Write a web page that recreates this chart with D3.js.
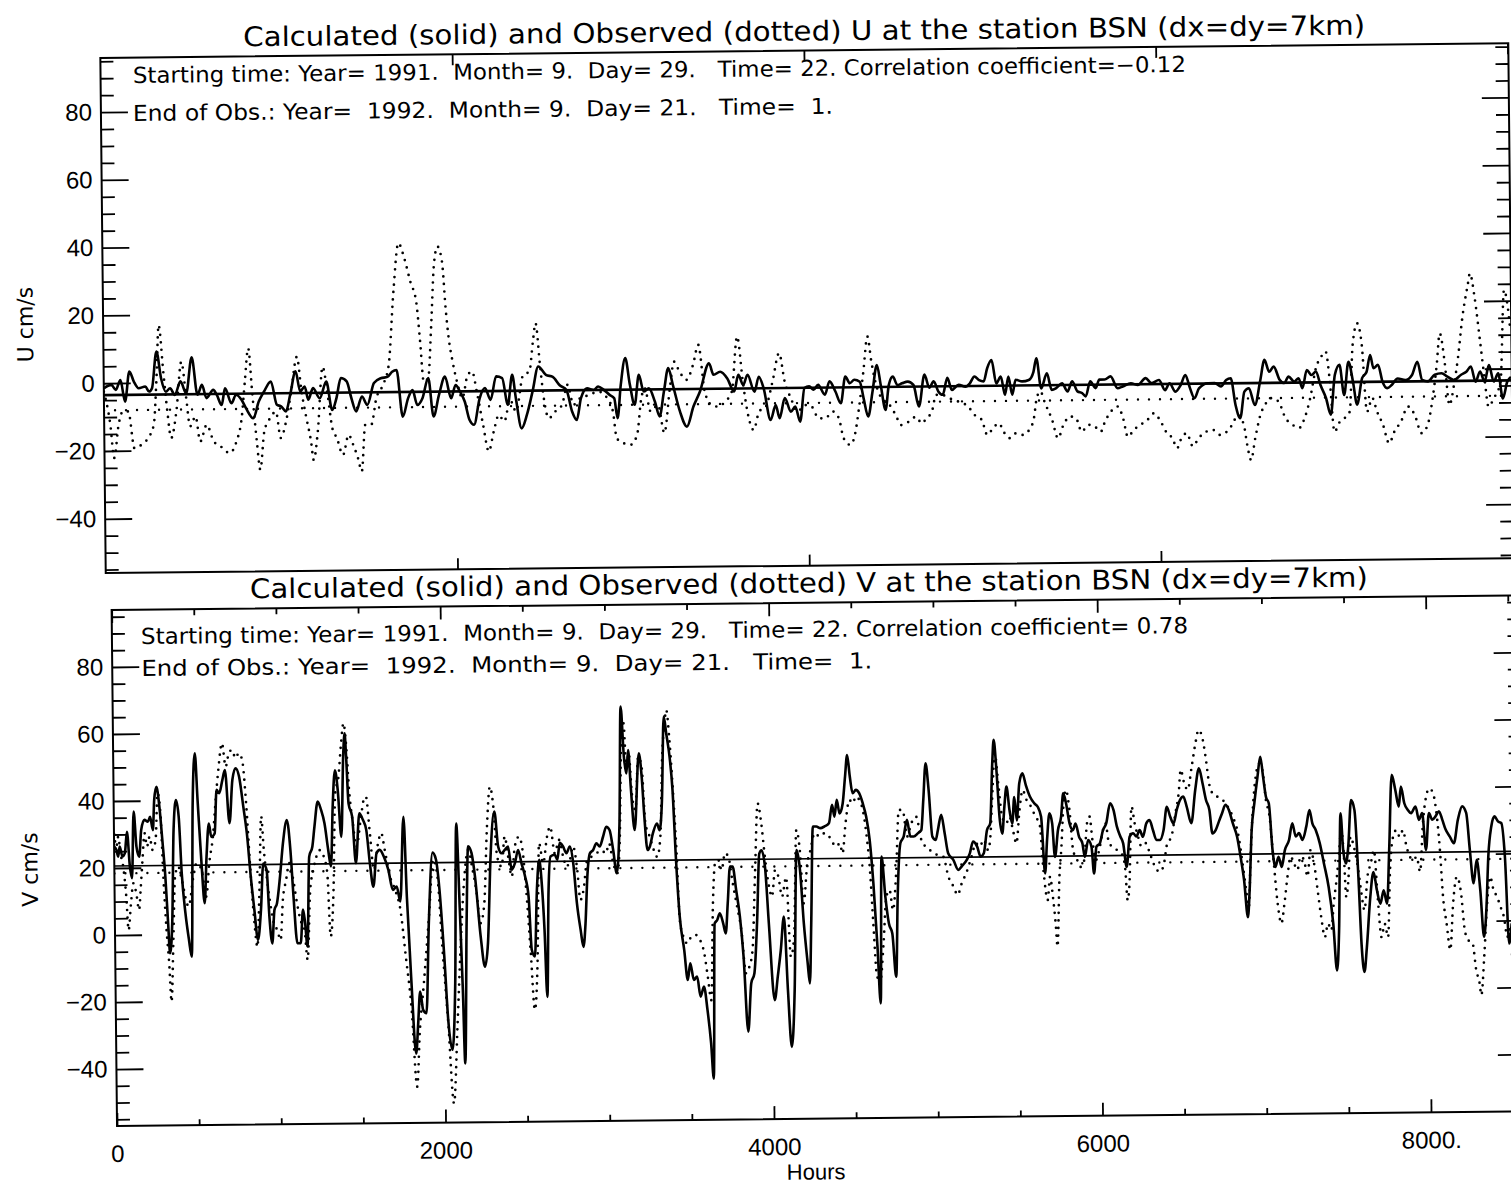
<!DOCTYPE html>
<html>
<head>
<meta charset="utf-8">
<script src="https://cdn.jsdelivr.net/npm/d3@7"></script>
<style>
  html, body { margin: 0; padding: 0; background: #fff; }
  svg { display: block; }
</style>
</head>
<body>
<script>
// ---- Series: [hour, cm/s] ----
const uCalc = [[0,-1.5],[43,-0.5],[68,-2.0],[95,0.9],[120,-5.5],[146,3.4],[171,0.4],[198,-1.6],[236,-1.1],[257,-2.6],[274,-1.6],[301,9.2],[326,1.3],[352,-2.7],[377,-1.7],[403,-3.7],[436,0.3],[468,-3.2],[501,7.4],[532,-3.7],[558,-0.8],[583,-4.7],[622,-2.3],[642,-3.8],[669,-6.8],[689,-1.9],[725,-6.3],[751,-3.8],[782,-5.3],[807,-7.8],[848,-10.8],[880,-5.9],[910,-3.0],[950,0.0],[983,-6.9],[1008,-7.4],[1034,-8.9],[1059,-4.0],[1091,2.9],[1116,-3.0],[1142,-1.6],[1162,-5.5],[1189,-2.1],[1227,-5.1],[1265,-0.2],[1297,-8.6],[1322,-5.1],[1348,0.8],[1381,-0.2],[1407,-5.2],[1433,-9.1],[1467,-4.7],[1497,-7.2],[1536,-0.8],[1575,0.6],[1613,1.0],[1640,2.5],[1665,3.0],[1698,-10.8],[1729,-5.4],[1755,-3.0],[1781,-7.4],[1811,-5.4],[1845,0.5],[1873,-10.8],[1905,-4.5],[1940,0.9],[1974,-5.5],[2000,-1.6],[2025,-3.6],[2051,-6.5],[2077,-11.9],[2103,-13.4],[2136,-5.6],[2167,-2.6],[2198,-6.1],[2231,0.8],[2265,0.3],[2296,-7.6],[2322,1.2],[2342,-5.7],[2373,-14.6],[2404,-10.6],[2437,-3.8],[2471,3.6],[2514,1.1],[2553,0.5],[2592,-2.0],[2630,-3.4],[2661,-9.8],[2687,-12.3],[2712,-5.9],[2747,-3.0],[2785,-3.5],[2810,-2.5],[2842,-3.5],[2875,-5.0],[2901,-6.0],[2919,-11.9],[2939,-2.1],[2966,5.8],[2991,-2.1],[3017,-8.0],[3042,0.8],[3069,-4.1],[3099,-3.2],[3132,-7.1],[3158,-11.5],[3184,-4.2],[3210,2.7],[3235,-2.2],[3274,-10.1],[3313,-14.6],[3351,-8.7],[3389,-4.3],[3442,4.0],[3467,0.6],[3505,1.5],[3545,-0.5],[3583,-4.4],[3608,0.5],[3635,-2.5],[3660,0.5],[3699,-4.5],[3724,-0.1],[3751,-3.5],[3789,-12.9],[3819,-8.5],[3840,-12.4],[3871,-6.5],[3905,-10.5],[3930,-9.0],[3957,-13.5],[3983,-3.6],[4010,-3.1],[4035,-4.1],[4061,-2.7],[4099,-5.6],[4126,-1.7],[4159,-4.7],[4189,-8.2],[4216,-0.3],[4241,-2.3],[4267,-1.3],[4298,-1.9],[4319,-6.8],[4344,-12.2],[4370,-4.8],[4396,3.0],[4417,-2.9],[4443,-10.3],[4463,-2.9],[4486,-0.5],[4512,-3.0],[4538,-2.5],[4571,-2.0],[4603,-3.0],[4633,-9.4],[4666,0.0],[4693,-3.9],[4718,-2.0],[4744,-5.0],[4769,-6.0],[4796,-1.0],[4821,-4.6],[4860,-3.1],[4899,-3.7],[4924,-2.7],[4950,-0.7],[4976,-1.8],[5002,-2.2],[5023,1.7],[5048,4.1],[5074,-2.8],[5100,-0.8],[5123,-6.2],[5143,-0.8],[5164,-6.2],[5184,-1.8],[5221,-2.3],[5259,-1.9],[5286,0.5],[5303,4.5],[5329,-4.4],[5362,0.0],[5389,-4.9],[5414,-4.4],[5448,-3.0],[5479,-5.4],[5505,-2.4],[5535,-5.4],[5561,-5.9],[5582,-6.9],[5608,-2.5],[5638,-4.5],[5660,-2.0],[5690,-2.0],[5724,-1.1],[5763,-4.6],[5793,-4.1],[5839,-3.2],[5879,-3.7],[5923,-1.7],[5956,-3.2],[5999,-2.3],[6033,-5.3],[6059,-3.3],[6092,-5.8],[6123,-3.8],[6149,-0.9],[6175,-4.8],[6200,-7.8],[6226,-4.9],[6278,-3.4],[6316,-3.4],[6351,-4.4],[6381,-2.5],[6407,-2.0],[6433,-9.9],[6459,-13.8],[6484,-6.0],[6510,-5.0],[6543,-10.0],[6574,-3.0],[6600,3.3],[6626,-0.2],[6652,1.3],[6685,-2.6],[6711,-3.6],[6736,-1.7],[6768,-3.2],[6793,-2.2],[6814,-5.2],[6840,0.2],[6866,-1.3],[6892,-0.3],[6917,-4.3],[6948,-8.2],[6974,-13.1],[6999,-1.4],[7026,1.6],[7051,-7.3],[7077,2.5],[7102,-3.4],[7124,-10.2],[7154,-2.4],[7180,-0.5],[7201,4.4],[7219,0.5],[7245,1.5],[7270,-3.5],[7296,-5.4],[7322,-4.5],[7356,-2.6],[7400,-3.1],[7438,-1.6],[7469,2.3],[7495,-3.1],[7528,-3.6],[7567,-1.6],[7606,-1.2],[7639,-2.2],[7676,-3.2],[7717,-1.7],[7747,-0.8],[7773,0.7],[7799,-3.8],[7825,-0.8],[7850,-3.8],[7876,1.1],[7902,-3.8],[7928,-1.4],[7953,-8.8],[7979,-3.9],[8000,-2.5]];

const uObs = [[0,-2.5],[35,-12.3],[55,-22.1],[82,-12.3],[107,-8.4],[138,-8.4],[171,-19.3],[210,-18.3],[249,-16.3],[282,-12.4],[301,2.3],[315,17.0],[339,3.2],[360,-8.6],[380,-16.4],[411,-8.6],[442,6.1],[468,-4.7],[488,-13.0],[520,-10.1],[545,-17.5],[583,-12.6],[622,-17.5],[661,-19.0],[712,-21.0],[751,-17.6],[782,-10.7],[802,0.0],[823,9.9],[843,-3.0],[867,-17.7],[885,-26.0],[910,-14.7],[944,-10.8],[977,-8.9],[1003,-16.7],[1034,-11.9],[1065,-3.0],[1099,7.2],[1124,-3.1],[1150,-10.9],[1175,-17.8],[1189,-23.3],[1214,-14.9],[1245,4.2],[1270,-3.2],[1297,-14.0],[1322,-16.9],[1356,-21.9],[1389,-16.0],[1415,-19.0],[1441,-22.9],[1462,-26.8],[1484,-13.1],[1518,-13.1],[1549,-5.2],[1587,-1.4],[1621,4.5],[1652,26.1],[1683,40.4],[1716,35.9],[1749,29.0],[1781,23.1],[1801,11.3],[1819,-0.5],[1845,0.5],[1865,16.2],[1884,34.0],[1905,39.3],[1930,34.8],[1948,21.0],[1966,11.2],[1981,6.3],[2008,-0.6],[2038,-5.5],[2069,1.3],[2095,2.3],[2120,-3.6],[2154,-13.4],[2185,-21.3],[2214,-15.5],[2244,-10.6],[2275,-12.5],[2309,-6.2],[2342,-9.6],[2385,1.2],[2420,2.1],[2442,10.9],[2458,16.4],[2481,4.0],[2501,-5.8],[2528,-11.7],[2566,-9.7],[2604,-7.8],[2636,-1.9],[2669,-7.8],[2707,-5.9],[2759,-5.0],[2810,-4.0],[2862,-6.0],[2893,-9.9],[2913,-17.8],[2952,-19.3],[2991,-19.8],[3029,-16.9],[3055,-6.1],[3075,-3.1],[3107,-10.0],[3150,-8.1],[3184,-16.4],[3218,-3.2],[3243,4.6],[3274,1.6],[3313,-0.8],[3351,3.6],[3382,9.5],[3416,-4.3],[3454,-8.3],[3493,-8.8],[3532,-7.3],[3570,-4.4],[3603,11.8],[3635,-2.4],[3665,-12.3],[3692,-15.8],[3724,-10.4],[3763,-8.9],[3802,-1.6],[3841,6.8],[3871,-1.6],[3905,-6.5],[3943,-10.5],[3983,-8.6],[4023,-9.1],[4061,-12.5],[4099,-12.6],[4143,-10.6],[4177,-12.6],[4203,-18.5],[4241,-20.5],[4267,-17.6],[4292,-9.7],[4319,1.1],[4344,11.4],[4365,4.0],[4391,-2.9],[4422,-6.9],[4460,-8.4],[4500,-11.8],[4530,-14.8],[4576,-13.8],[4615,-12.4],[4649,-14.4],[4674,-12.9],[4706,-11.0],[4731,-6.0],[4769,-6.1],[4809,-7.1],[4860,-8.1],[4912,-9.5],[4950,-12.1],[4989,-13.5],[5020,-18.0],[5053,-16.0],[5086,-14.6],[5118,-17.5],[5148,-19.0],[5183,-17.6],[5221,-18.1],[5259,-16.6],[5286,-13.2],[5303,-7.3],[5324,-5.3],[5350,-8.8],[5389,-13.7],[5422,-19.2],[5453,-15.3],[5492,-12.8],[5525,-13.3],[5557,-17.3],[5595,-15.3],[5633,-15.9],[5665,-17.4],[5690,-14.4],[5724,-11.5],[5763,-10.0],[5793,-13.5],[5819,-19.0],[5852,-17.0],[5891,-15.5],[5930,-14.1],[5969,-12.1],[6007,-14.6],[6041,-18.0],[6072,-19.5],[6098,-22.5],[6123,-19.6],[6154,-18.1],[6188,-22.0],[6221,-19.6],[6265,-17.7],[6303,-17.2],[6343,-18.7],[6381,-17.8],[6412,-15.8],[6446,-12.9],[6479,-15.8],[6497,-21.7],[6518,-26.2],[6543,-19.8],[6574,-12.9],[6600,-10.0],[6639,-8.0],[6677,-9.0],[6716,-13.9],[6755,-15.9],[6793,-16.9],[6825,-14.0],[6858,-8.1],[6892,0.7],[6923,4.1],[6948,5.6],[6969,-2.4],[6994,-18.1],[7026,-15.1],[7051,-14.2],[7082,-12.2],[7102,7.4],[7129,13.8],[7154,7.4],[7180,-12.3],[7211,-8.3],[7237,-12.3],[7270,-16.2],[7304,-21.7],[7335,-18.2],[7373,-15.3],[7413,-10.9],[7451,-13.4],[7489,-18.8],[7524,-16.4],[7554,-8.5],[7579,1.3],[7598,10.6],[7624,2.2],[7649,-10.6],[7676,-4.7],[7701,3.6],[7727,15.0],[7760,24.8],[7773,28.2],[7799,20.8],[7825,9.0],[7850,-2.8],[7871,-11.2],[7902,-8.7],[7941,-3.9],[7966,23.2],[7985,18.7],[8000,10.8]];

const vCalc = [[0,26.4],[14,25.4],[24,23.4],[34,26.4],[50,23.4],[65,24.4],[79,30.8],[95,20.3],[107,16.9],[121,36.8],[136,26.3],[152,23.3],[166,31.3],[186,34.3],[207,33.7],[221,35.2],[237,31.2],[247,40.2],[261,44.1],[278,38.2],[294,28.2],[310,17.3],[324,3.3],[334,-5.6],[349,3.3],[363,31.2],[379,40.1],[395,35.1],[410,18.2],[430,6.3],[450,-1.7],[466,-6.7],[481,39.1],[497,54.0],[511,40.0],[531,21.1],[548,9.2],[562,23.1],[578,33.0],[592,29.0],[613,30.0],[627,43.0],[643,42.0],[663,45.9],[679,48.9],[704,33.0],[724,45.9],[744,49.4],[765,46.9],[789,37.9],[809,29.9],[830,17.0],[850,7.0],[870,-1.9],[890,7.0],[907,20.9],[927,18.9],[941,5.0],[957,-3.0],[972,7.0],[988,9.0],[1008,16.9],[1028,26.9],[1053,33.8],[1073,24.8],[1089,10.9],[1110,-3.0],[1130,-3.0],[1146,7.0],[1158,3.0],[1171,-4.0],[1187,22.8],[1207,25.8],[1221,31.8],[1242,39.2],[1262,36.7],[1282,32.7],[1303,24.8],[1319,19.8],[1333,37.6],[1349,48.5],[1365,42.5],[1384,28.6],[1400,52.5],[1410,59.5],[1418,52.5],[1430,38.5],[1451,34.6],[1471,20.7],[1495,35.6],[1516,33.6],[1536,30.6],[1556,20.6],[1576,13.6],[1597,23.6],[1617,24.6],[1641,22.6],[1668,18.6],[1694,12.6],[1718,13.6],[1739,9.1],[1763,34.4],[1779,10.5],[1800,-13.4],[1826,-36.3],[1840,-27.3],[1854,-17.8],[1871,-23.3],[1891,-24.3],[1911,2.6],[1938,23.6],[1958,21.6],[1978,12.5],[2003,-7.4],[2023,-26.3],[2047,-35.3],[2068,-15.4],[2084,32.2],[2100,7.3],[2114,-17.5],[2124,-39.4],[2141,2.4],[2155,25.4],[2175,23.4],[2195,16.3],[2226,-1.6],[2250,-10.6],[2270,-3.5],[2291,22.3],[2317,35.7],[2338,25.2],[2358,23.2],[2378,24.2],[2398,25.2],[2419,18.2],[2439,20.2],[2459,24.1],[2479,20.1],[2500,16.2],[2520,10.2],[2536,-5.7],[2555,-7.7],[2571,12.1],[2587,21.1],[2601,14.1],[2615,0.2],[2628,-19.8],[2642,12.1],[2656,22.1],[2682,22.6],[2697,21.1],[2713,26.1],[2733,25.0],[2753,23.0],[2774,25.0],[2794,20.0],[2814,8.0],[2835,0.0],[2851,-5.0],[2865,2.0],[2879,16.0],[2896,22.9],[2916,23.9],[2936,25.9],[2956,24.9],[2977,27.8],[2997,30.8],[3017,29.8],[3038,23.8],[3058,16.9],[3078,31.7],[3092,66.6],[3109,51.6],[3123,46.6],[3135,53.6],[3149,42.6],[3170,29.7],[3200,52.6],[3216,45.6],[3230,33.6],[3247,23.7],[3261,24.7],[3281,28.7],[3306,31.6],[3322,29.6],[3338,38.5],[3354,63.5],[3368,58.5],[3387,51.5],[3403,41.5],[3419,21.6],[3439,3.7],[3464,-6.2],[3484,-15.2],[3500,-10.2],[3521,-15.2],[3541,-14.2],[3561,-20.2],[3582,-17.2],[3602,-24.2],[3622,-34.2],[3636,-44.7],[3651,1.6],[3667,2.6],[3683,4.6],[3703,1.6],[3718,-1.4],[3732,7.6],[3748,18.5],[3764,18.5],[3784,11.5],[3805,3.6],[3825,-8.4],[3849,-30.8],[3870,-16.4],[3890,-13.4],[3910,2.5],[3927,22.3],[3941,23.3],[3961,18.3],[3981,1.4],[4012,-21.5],[4032,-14.5],[4052,-6.6],[4073,3.4],[4093,-18.5],[4113,-35.5],[4134,-18.5],[4154,23.2],[4174,17.2],[4194,1.3],[4215,-10.6],[4227,-16.6],[4239,1.3],[4255,30.2],[4276,30.2],[4300,29.7],[4326,30.2],[4353,31.1],[4373,36.6],[4387,33.1],[4402,38.1],[4418,34.0],[4438,37.0],[4454,45.0],[4468,51.4],[4483,45.0],[4499,40.0],[4519,41.0],[4539,40.0],[4560,37.0],[4580,33.0],[4600,26.0],[4620,13.0],[4641,-6.0],[4657,-22.8],[4671,21.0],[4692,9.0],[4712,1.0],[4732,-2.0],[4753,-14.9],[4767,9.0],[4787,25.0],[4807,26.9],[4828,31.9],[4848,26.9],[4868,26.9],[4895,27.9],[4915,28.8],[4929,37.8],[4945,48.7],[4962,40.7],[4982,26.8],[5002,25.8],[5016,28.8],[5037,33.3],[5057,27.8],[5077,21.8],[5108,19.8],[5138,16.8],[5158,17.8],[5189,19.7],[5209,21.7],[5229,25.2],[5254,23.7],[5274,20.7],[5294,21.7],[5315,28.6],[5335,30.6],[5351,48.5],[5361,55.5],[5376,46.5],[5392,32.5],[5408,27.5],[5422,35.5],[5436,41.5],[5453,34.5],[5469,30.5],[5483,38.4],[5497,31.4],[5514,42.4],[5534,45.4],[5554,41.9],[5579,38.4],[5605,36.4],[5625,35.4],[5645,32.4],[5666,15.5],[5680,25.5],[5696,33.4],[5712,30.4],[5727,20.4],[5747,28.4],[5767,32.4],[5781,39.3],[5798,36.3],[5818,30.3],[5838,28.3],[5854,30.3],[5875,26.3],[5895,24.3],[5909,20.3],[5930,25.3],[5950,23.3],[5964,15.3],[5980,23.3],[6001,24.3],[6021,28.2],[6041,30.2],[6066,36.2],[6086,34.2],[6106,29.2],[6127,26.2],[6143,24.2],[6163,17.2],[6183,26.2],[6204,27.2],[6224,26.2],[6244,28.1],[6264,26.1],[6285,30.1],[6305,31.1],[6325,28.1],[6346,25.1],[6366,25.1],[6390,28.1],[6411,35.0],[6431,32.0],[6451,30.0],[6471,34.0],[6492,37.0],[6512,38.0],[6532,35.0],[6559,30.0],[6585,39.9],[6609,46.4],[6630,41.9],[6650,36.9],[6670,33.9],[6687,26.9],[6707,27.9],[6727,30.4],[6747,32.9],[6768,35.4],[6788,33.9],[6812,29.8],[6837,25.8],[6857,19.8],[6877,12.8],[6898,1.8],[6910,9.8],[6926,27.7],[6944,35.7],[6965,43.7],[6983,49.6],[6999,43.6],[7015,37.7],[7032,35.7],[7052,21.7],[7068,16.7],[7088,19.7],[7107,16.7],[7127,21.7],[7153,24.7],[7174,29.7],[7194,25.7],[7214,26.7],[7235,24.7],[7259,28.7],[7279,33.6],[7296,29.6],[7316,27.6],[7340,23.6],[7364,17.6],[7391,10.6],[7417,-0.4],[7437,-14.4],[7452,-2.4],[7468,32.5],[7482,21.5],[7498,17.5],[7513,22.5],[7533,36.4],[7553,33.4],[7573,13.4],[7588,-6.6],[7604,-14.9],[7620,-7.6],[7644,7.4],[7665,14.9],[7685,9.4],[7705,5.4],[7726,9.4],[7746,5.4],[7762,21.4],[7782,43.8],[7803,39.3],[7823,34.3],[7837,40.3],[7857,35.3],[7878,33.3],[7898,32.3],[7925,34.3],[7945,30.3],[7965,32.3],[7986,21.3],[8006,32.3],[8026,30.3],[8046,31.3],[8067,32.8],[8087,30.3],[8107,27.3],[8132,25.2],[8156,23.2],[8182,30.2],[8209,34.2],[8233,32.2],[8253,21.2],[8274,11.2],[8294,18.2],[8314,9.2],[8334,-4.8],[8351,4.2],[8365,19.1],[8385,28.1],[8405,31.1],[8426,29.6],[8446,29.1],[8466,19.1],[8487,-6.9],[8503,-0.9]];

const vObs = [[0,30.2],[14,26.4],[26,29.4],[38,24.4],[54,20.4],[71,11.4],[83,1.4],[99,9.3],[115,15.4],[132,12.4],[148,7.4],[160,14.3],[172,22.3],[186,30.3],[200,26.3],[217,29.3],[233,25.3],[253,28.2],[268,42.2],[284,36.2],[298,17.3],[314,1.4],[328,-8.6],[340,-20.1],[355,-1.6],[369,17.3],[389,20.3],[410,16.2],[450,8.3],[481,17.3],[501,21.2],[531,19.2],[558,11.2],[578,21.1],[602,29.0],[623,41.0],[639,48.9],[663,56.9],[684,49.9],[704,53.9],[724,54.9],[744,52.4],[765,53.9],[785,51.8],[805,39.9],[826,20.9],[850,3.0],[866,-4.0],[882,13.0],[897,35.0],[911,25.0],[927,17.0],[947,9.0],[968,3.0],[988,1.0],[1008,-2.0],[1024,10.0],[1045,15.9],[1065,20.9],[1085,16.9],[1110,8.9],[1130,3.9],[1154,0.9],[1171,-8.0],[1191,12.8],[1211,18.8],[1231,22.8],[1252,24.7],[1276,22.7],[1296,17.8],[1313,-1.1],[1333,12.7],[1349,41.5],[1370,46.5],[1388,56.5],[1404,62.5],[1418,56.5],[1434,42.5],[1455,32.6],[1475,25.6],[1505,34.6],[1522,39.5],[1536,40.5],[1556,30.6],[1580,18.6],[1607,26.6],[1627,29.6],[1647,24.6],[1678,16.6],[1708,12.6],[1739,6.6],[1769,-7.4],[1800,-22.3],[1830,-46.2],[1850,-29.3],[1877,-15.4],[1911,3.6],[1942,21.6],[1966,16.5],[1993,-5.4],[2023,-27.3],[2053,-51.3],[2080,-27.4],[2100,-7.5],[2124,12.3],[2155,24.3],[2181,18.3],[2202,12.3],[2226,2.4],[2250,8.3],[2270,30.2],[2291,43.1],[2311,37.1],[2331,22.2],[2358,19.2],[2378,28.2],[2398,22.2],[2419,16.2],[2439,25.1],[2465,28.1],[2486,24.1],[2506,12.1],[2530,-6.7],[2551,-23.6],[2571,-8.6],[2587,26.1],[2611,20.1],[2636,28.0],[2656,31.0],[2682,23.0],[2709,27.0],[2733,22.0],[2753,19.0],[2774,21.0],[2794,25.0],[2818,18.0],[2835,9.0],[2855,12.0],[2879,20.9],[2906,21.9],[2936,22.9],[2967,23.8],[2993,22.8],[3013,25.8],[3038,19.8],[3062,16.9],[3078,25.8],[3094,56.6],[3109,61.6],[3123,47.6],[3139,52.6],[3155,40.7],[3176,35.7],[3196,51.6],[3216,48.6],[3236,31.6],[3261,27.7],[3285,23.7],[3306,21.6],[3326,27.6],[3342,51.5],[3358,61.5],[3370,65.4],[3387,56.5],[3403,43.5],[3423,23.6],[3439,2.7],[3460,-2.3],[3484,-4.3],[3508,-2.3],[3535,-1.8],[3561,-3.3],[3586,-7.3],[3606,-14.3],[3626,-21.3],[3642,7.6],[3657,19.5],[3677,20.5],[3697,17.5],[3718,22.5],[3738,21.5],[3764,13.5],[3789,6.5],[3813,-0.4],[3839,-13.4],[3860,-11.4],[3880,-6.5],[3900,16.4],[3920,37.3],[3941,31.3],[3961,21.3],[3981,13.4],[4002,9.4],[4022,17.3],[4042,15.3],[4063,9.4],[4089,15.2],[4113,-8.6],[4134,-2.6],[4154,29.2],[4174,23.2],[4194,7.3],[4219,19.3],[4239,23.2],[4265,28.2],[4296,27.2],[4326,28.2],[4353,27.2],[4377,25.1],[4397,24.1],[4418,25.1],[4434,22.1],[4454,31.0],[4479,38.0],[4499,37.0],[4519,39.0],[4539,38.0],[4560,35.0],[4580,28.0],[4600,17.0],[4617,1.1],[4637,-14.9],[4657,-15.8],[4678,-4.9],[4698,9.0],[4718,11.0],[4738,5.0],[4759,16.0],[4779,34.9],[4803,34.8],[4828,26.9],[4854,30.8],[4884,32.8],[4915,25.8],[4941,23.8],[4966,22.8],[4990,21.8],[5016,21.3],[5047,20.8],[5077,14.8],[5108,11.8],[5132,9.3],[5158,12.8],[5189,16.2],[5219,20.7],[5246,24.7],[5270,23.7],[5294,25.7],[5321,22.6],[5335,26.6],[5351,40.5],[5367,51.5],[5388,41.5],[5408,32.5],[5432,30.5],[5453,32.5],[5473,28.5],[5493,24.5],[5514,34.4],[5534,40.4],[5558,37.4],[5585,35.4],[5611,32.4],[5635,30.4],[5656,16.5],[5680,7.5],[5696,14.5],[5712,8.5],[5727,0.5],[5737,-6.4],[5753,14.4],[5767,23.4],[5781,35.3],[5798,40.3],[5818,34.3],[5838,22.3],[5863,19.3],[5883,17.3],[5905,19.3],[5924,30.3],[5940,32.3],[5956,25.3],[5976,19.3],[6001,23.3],[6021,28.2],[6037,30.2],[6057,24.2],[6082,23.2],[6106,22.2],[6133,21.2],[6153,17.2],[6167,7.2],[6179,12.2],[6196,35.2],[6214,30.2],[6234,26.2],[6254,23.2],[6281,24.2],[6305,21.1],[6336,17.1],[6362,15.6],[6386,17.1],[6411,24.0],[6437,26.0],[6463,33.0],[6484,39.0],[6498,46.0],[6518,42.0],[6539,40.0],[6565,46.9],[6589,53.8],[6609,57.8],[6630,55.8],[6650,49.8],[6670,41.8],[6691,38.8],[6721,37.8],[6752,36.8],[6782,34.8],[6812,31.8],[6843,26.8],[6869,17.8],[6889,9.8],[6904,4.8],[6918,19.8],[6934,33.7],[6954,43.7],[6975,47.6],[6995,45.6],[7015,36.6],[7036,31.7],[7056,19.7],[7080,5.7],[7101,-0.2],[7121,5.7],[7141,13.7],[7162,19.7],[7182,17.7],[7202,15.7],[7222,19.7],[7243,18.7],[7263,13.7],[7283,21.6],[7304,17.6],[7324,9.6],[7344,1.6],[7365,-4.4],[7385,-0.4],[7405,-2.4],[7421,5.6],[7442,13.6],[7458,21.5],[7472,27.5],[7486,19.5],[7498,7.5],[7513,13.5],[7527,25.5],[7547,22.5],[7567,17.5],[7588,9.5],[7608,3.5],[7628,13.5],[7649,17.4],[7669,21.4],[7689,7.4],[7710,-4.6],[7730,-0.6],[7750,-4.6],[7766,15.4],[7787,25.4],[7807,27.3],[7827,25.3],[7847,27.3],[7868,22.3],[7888,19.3],[7908,18.3],[7929,19.3],[7949,14.8],[7969,29.3],[7990,37.2],[8010,39.6],[8030,38.6],[8050,33.2],[8071,21.2],[8087,7.3],[8107,-0.7],[8128,-8.6],[8148,5.3],[8172,13.2],[8197,8.2],[8217,-2.7],[8237,-5.7],[8264,-6.7],[8284,-14.6],[8304,-18.6],[8314,-22.2],[8334,-10.7],[8355,5.2],[8375,13.1],[8395,9.1],[8416,7.1],[8436,4.1],[8456,1.1],[8476,-4.9],[8497,-0.9]];

// Record means: [calculated, observed]
const uMeans = [-3.5, -8.0];
const vMeans = [20.6, 18.4];

// Axis ticks and labels
const yMajorTicks = [-40, -20, 0, 20, 40, 60, 80];
const yMinorTicks = d3.range(-55, 96, 5).filter(v => v % 20 !== 0);
const xMajorTicks = [0, 2000, 4000, 6000, 8000];
const xTickLabels = ["0", "2000", "4000", "6000", "8000."];
const xMinorTicks = d3.range(500, 8600, 500).filter(v => v % 2000 !== 0);

// Text
const titleU = "Calculated (solid) and Observed (dotted) U at the station BSN (dx=dy=7km)";
const titleV = "Calculated (solid) and Observed (dotted) V at the station BSN (dx=dy=7km)";
const notesU = ["Starting time: Year= 1991.  Month= 9.  Day= 29.   Time= 22. Correlation coefficient=\u22120.12",
                "End of Obs.: Year=  1992.  Month= 9.  Day= 21.   Time=  1."];
const notesV = ["Starting time: Year= 1991.  Month= 9.  Day= 29.   Time= 22. Correlation coefficient= 0.78",
                "End of Obs.: Year=  1992.  Month= 9.  Day= 21.   Time=  1."];
const yTitleU = "U cm/s", yTitleV = "V cm/s", xTitle = "Hours";

// ---- Drawing ----
const W = 1511, H = 1188;
const svg = d3.select("body").append("svg").attr("width", W).attr("height", H);
svg.append("rect").attr("width", W).attr("height", H).attr("fill", "#fff");
// the whole sheet sits at a slight tilt
const sheet = svg.append("g").attr("transform", "rotate(-0.6 755 594)");

const tickFont = "'Liberation Sans', Arial, sans-serif";
const textFont = "'DejaVu Sans', 'Noto Sans', sans-serif";
const fmtTick = v => v < 0 ? "\u2212" + Math.abs(v) : String(v);

function drawPanel(p) {
  const x = d3.scaleLinear().domain(p.xDomain).range(p.xRange);
  const y = d3.scaleLinear().domain(p.yDomain).range(p.yRange);
  const g = sheet.append("g");
  const [x0, x1] = p.xRange, [yb, yt] = p.yRange;

  const clipId = "clip-" + p.key;
  g.append("clipPath").attr("id", clipId)
    .append("rect").attr("x", x0).attr("y", yt).attr("width", x1 - x0).attr("height", yb - yt);

  // y axes: left with labels, right without; ticks point inward
  g.append("g").attr("transform", `translate(${x0},0)`)
    .call(d3.axisLeft(y).tickValues(yMajorTicks).tickSize(-27).tickPadding(9).tickFormat(fmtTick));
  g.append("g").attr("transform", `translate(${x0},0)`)
    .call(d3.axisLeft(y).tickValues(yMinorTicks).tickSize(-13).tickFormat(""));
  g.append("g").attr("transform", `translate(${x1},0)`)
    .call(d3.axisRight(y).tickValues(yMajorTicks).tickSize(-27).tickFormat(""));
  g.append("g").attr("transform", `translate(${x1},0)`)
    .call(d3.axisRight(y).tickValues(yMinorTicks).tickSize(-13).tickFormat(""));

  // x axes
  g.append("g").attr("transform", `translate(0,${yb})`)
    .call(d3.axisBottom(x).tickValues(p.xMajor).tickSize(-p.xTickLen).tickPadding(19)
      .tickFormat(p.xLabels ? (d => xTickLabels[xMajorTicks.indexOf(d)]) : ""));
  g.append("g").attr("transform", `translate(0,${yt})`)
    .call(d3.axisTop(x).tickValues(p.xMajor).tickSize(-p.xTickLen).tickFormat(""));
  if (p.xMinor.length) {
    g.append("g").attr("transform", `translate(0,${yb})`)
      .call(d3.axisBottom(x).tickValues(p.xMinor).tickSize(-6).tickFormat(""));
    g.append("g").attr("transform", `translate(0,${yt})`)
      .call(d3.axisTop(x).tickValues(p.xMinor).tickSize(-6).tickFormat(""));
  }
  g.selectAll(".domain").remove();
  g.selectAll(".tick line").attr("stroke", "#000").attr("stroke-width", 1.8);
  g.selectAll(".tick text").attr("font-family", tickFont).attr("font-size", 24).attr("fill", "#000");

  // frame
  g.append("rect").attr("x", x0).attr("y", yt).attr("width", x1 - x0).attr("height", yb - yt)
    .attr("fill", "none").attr("stroke", "#000").attr("stroke-width", 2);

  const plot = g.append("g").attr("clip-path", `url(#${clipId})`);
  const line = d3.line().x(d => x(d[0])).y(d => y(d[1])).curve(d3.curveMonotoneX);

  // mean levels
  plot.append("line").attr("x1", x0).attr("x2", x1)
    .attr("y1", y(p.means[0])).attr("y2", y(p.means[0]))
    .attr("stroke", "#000").attr("stroke-width", p.meanWidth);
  plot.append("line").attr("x1", x0).attr("x2", x1)
    .attr("y1", y(p.means[1])).attr("y2", y(p.means[1]))
    .attr("stroke", "#000").attr("stroke-width", 2.4)
    .attr("stroke-linecap", "round").attr("stroke-dasharray", "0 11");

  // observed (dotted)
  plot.append("path").datum(p.obs).attr("d", line)
    .attr("fill", "none").attr("stroke", "#000").attr("stroke-width", 2.7)
    .attr("stroke-linecap", "round").attr("stroke-dasharray", "0 7.5");
  // calculated (solid)
  plot.append("path").datum(p.calc).attr("d", line)
    .attr("fill", "none").attr("stroke", "#000").attr("stroke-width", 2.6)
    .attr("stroke-linejoin", "round");

  // title
  g.append("text").attr("x", p.title.x).attr("y", p.title.y)
    .attr("text-anchor", "middle").attr("font-family", textFont).attr("font-size", 27)
    .attr("textLength", p.title.w).attr("lengthAdjust", "spacingAndGlyphs")
    .text(p.title.text);

  // header notes
  p.notes.forEach((s, r) => {
    const span = p.noteSpans[r];
    g.append("text").attr("x", span[0]).attr("y", p.noteY[r])
      .attr("font-family", textFont).attr("font-size", 22)
      .style("white-space", "pre")
      .attr("textLength", span[1] - span[0]).attr("lengthAdjust", "spacingAndGlyphs")
      .text(s);
  });

  // y title
  g.append("text")
    .attr("transform", `translate(${p.yTitle.x},${p.yTitle.y}) rotate(-90)`)
    .attr("text-anchor", "middle").attr("dy", "0.35em")
    .attr("font-family", textFont).attr("font-size", 22)
    .text(p.yTitle.text);

  if (p.xTitle) {
    g.append("text").attr("x", p.xTitle.x).attr("y", p.xTitle.y)
      .attr("text-anchor", "middle").attr("font-family", tickFont).attr("font-size", 22)
      .text(p.xTitle.text);
  }
}

drawPanel({
  key: "u", calc: uCalc, obs: uObs, means: uMeans, meanWidth: 2.6,
  xDomain: [0, 8005], xRange: [106, 1514],
  yDomain: [-56, 96], yRange: [566.2, 51.1],
  xMajor: [2000, 4000, 6000, 8000], xMinor: [], xLabels: false, xTickLen: 11,
  title: { text: titleU, x: 810, y: 41, w: 1122 },
  notes: notesU,
  noteSpans: [[138.4, 1191.4], [138, 838]],
  noteY: [76.5, 114.5],
  yTitle: { text: yTitleU, x: 28, y: 317 }
});

drawPanel({
  key: "v", calc: vCalc, obs: vObs, means: vMeans, meanWidth: 1.7,
  xDomain: [0, 8575], xRange: [111.5, 1520],
  yDomain: [-57, 97], yRange: [1119.3, 603.3],
  xMajor: xMajorTicks, xMinor: xMinorTicks, xLabels: true, xTickLen: 13,
  title: { text: titleV, x: 809, y: 593, w: 1118 },
  notes: notesV,
  noteSpans: [[140.6, 1187.6], [140.6, 871.6]],
  noteY: [637.6, 669.6],
  yTitle: { text: yTitleV, x: 27, y: 862 },
  xTitle: { text: xTitle, x: 810, y: 1180 }
});
</script>
</body>
</html>
